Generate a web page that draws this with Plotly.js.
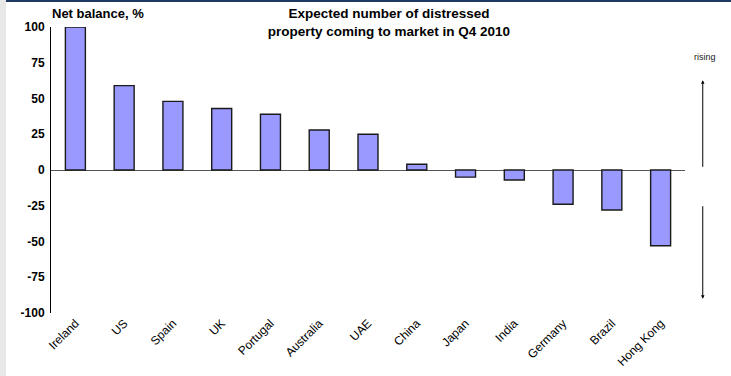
<!DOCTYPE html>
<html><head><meta charset="utf-8">
<script src="https://cdn.plot.ly/plotly-3.0.1.min.js"></script>
<style>
html,body{margin:0;padding:0;background:#e8e8e8;width:731px;height:376px;overflow:hidden}
#wrap{position:absolute;left:6px;top:0;width:725px;height:376px;background:#fff}
#bar{position:absolute;left:0;top:0;width:725px;height:2px;background:#1f3864}
#chart{position:absolute;left:0;top:2px;width:725px;height:374px}
</style></head>
<body>
<div id="wrap"><div id="bar"></div><div id="chart"></div></div>
<script>
const countries = ['Ireland','US','Spain','UK','Portugal','Australia','UAE','China','Japan','India','Germany','Brazil','Hong Kong'];
const netBalance = [100, 59, 48, 43, 39, 28, 25, 4, -5, -7, -24, -28, -53];
const yTicks = [100, 75, 50, 25, 0, -25, -50, -75, -100];

const font = 'Arial, "Liberation Sans", sans-serif';
const trace = {
  type: 'bar', x: countries, y: netBalance,
  marker: {color: '#9999ff', line: {color: '#1a1a1a', width: 1.4}},
  width: 0.41, hoverinfo: 'skip'
};
const layout = {
  width: 725, height: 374,
  margin: {l: 45, r: 46, t: 25, b: 63},
  paper_bgcolor: '#ffffff', plot_bgcolor: '#ffffff',
  showlegend: false,
  font: {family: font, color: '#000'},
  title: {
    text: 'Expected number of distressed<br>property coming to market in Q4 2010',
    font: {family: font, size: 13.5, color: '#000', weight: 'bold'},
    x: 0.533, xref: 'paper', xanchor: 'center',
    y: 0.957, yref: 'container', yanchor: 'top'
  },
  xaxis: {
    type: 'category', showline: false, showgrid: false, ticks: '',
    tickangle: -45, tickfont: {family: font, size: 12, color: '#000'},
    zeroline: false
  },
  yaxis: {
    range: [-100, 100], tickvals: yTicks, ticktext: yTicks.map(String),
    showline: true, linecolor: '#000', linewidth: 1, ticks: '',
    showgrid: false, zeroline: true, zerolinecolor: '#555', zerolinewidth: 1,
    tickfont: {family: font, size: 12, color: '#000', weight: 'bold'},
    ticklabelstandoff: 3
  },
  annotations: [
    {text: '<b>Net balance, %</b>', xref: 'paper', yref: 'paper', x: -0.002, y: 1.046,
     xanchor: 'left', yanchor: 'middle', showarrow: false, font: {family: font, size: 13, color: '#000'}},
    {text: 'rising', xref: 'paper', yref: 'y', x: 1.031, y: 79, xanchor: 'center', yanchor: 'middle',
     showarrow: false, font: {family: font, size: 9, color: '#222'}},
    {text: 'falling', xref: 'paper', yref: 'y', x: 1.031, y: -101, xanchor: 'center', yanchor: 'middle',
     showarrow: false, font: {family: font, size: 9, color: '#222'}},
    {text: '', xref: 'paper', yref: 'y', x: 1.028, y: 62.7, ax: 0, ay: 88,
     showarrow: true, arrowhead: 2, arrowsize: 0.7, arrowwidth: 1, arrowcolor: '#000'},
    {text: '', xref: 'paper', yref: 'y', x: 1.028, y: -90, ax: 0, ay: -94,
     showarrow: true, arrowhead: 2, arrowsize: 0.7, arrowwidth: 1, arrowcolor: '#000'}
  ]
};
Plotly.newPlot('chart', [trace], layout, {displayModeBar: false, staticPlot: true});
</script>
</body></html>
